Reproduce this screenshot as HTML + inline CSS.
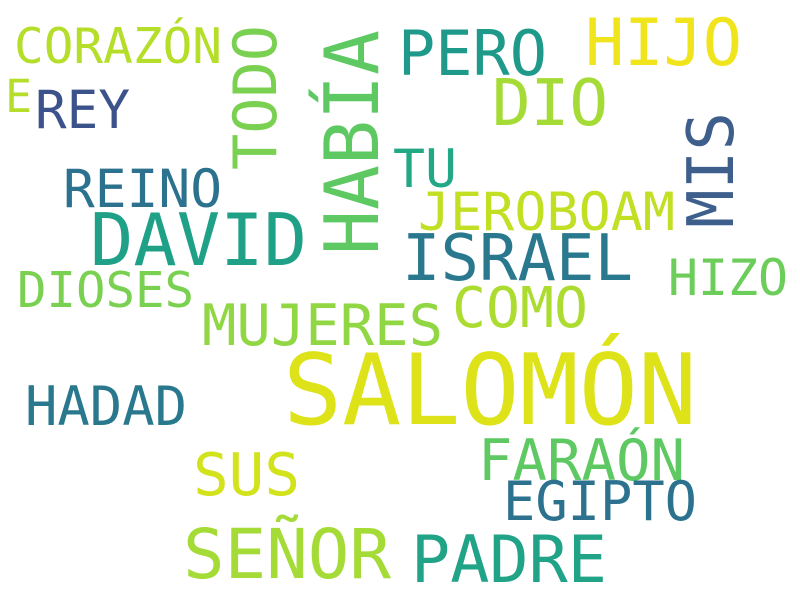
<!DOCTYPE html>
<html><head><meta charset="utf-8"><style>
html,body{margin:0;padding:0;background:#fff;}
svg text{font-family:"DejaVu Sans Mono","Liberation Mono",monospace;}
</style></head><body>
<svg width="800" height="600" viewBox="0 0 800 600">
<rect width="800" height="600" fill="#fff"/>
<text x="283" y="424" font-size="98" fill="#dde318" textLength="414" lengthAdjust="spacingAndGlyphs">SALOMÓN</text>
<text x="90" y="265" font-size="72" fill="#1fa187" textLength="217" lengthAdjust="spacingAndGlyphs">DAVID</text>
<text transform="translate(378,255) rotate(-90)" font-size="75" fill="#5ec962" textLength="225" lengthAdjust="spacingAndGlyphs">HABÍA</text>
<text transform="translate(276,170) rotate(-90)" font-size="60" fill="#7ad151" textLength="145" lengthAdjust="spacingAndGlyphs">TODO</text>
<text transform="translate(733,228) rotate(-90)" font-size="64" fill="#3e5f8c" textLength="116" lengthAdjust="spacingAndGlyphs">MIS</text>
<text x="585" y="65" font-size="65" fill="#f0e51c" textLength="157" lengthAdjust="spacingAndGlyphs">HIJO</text>
<text x="398" y="75" font-size="62" fill="#1f9a8a" textLength="149" lengthAdjust="spacingAndGlyphs">PERO</text>
<text x="492" y="125" font-size="64" fill="#a5db36" textLength="116" lengthAdjust="spacingAndGlyphs">DIO</text>
<text x="14" y="63" font-size="49" fill="#b5de2b" textLength="208" lengthAdjust="spacingAndGlyphs">CORAZÓN</text>
<text x="5" y="112" font-size="45" fill="#b5de2b">E</text>
<text x="35" y="128" font-size="53" fill="#3b528b" textLength="95" lengthAdjust="spacingAndGlyphs">REY</text>
<text x="63" y="207" font-size="53" fill="#2c728e" textLength="159" lengthAdjust="spacingAndGlyphs">REINO</text>
<text x="393" y="187" font-size="53" fill="#22a884" textLength="64" lengthAdjust="spacingAndGlyphs">TU</text>
<text x="418" y="230" font-size="53" fill="#c2df23" textLength="257" lengthAdjust="spacingAndGlyphs">JEROBOAM</text>
<text x="402" y="280" font-size="64" fill="#2a788e" textLength="231" lengthAdjust="spacingAndGlyphs">ISRAEL</text>
<text x="668" y="295" font-size="50" fill="#6ccd5a" textLength="120" lengthAdjust="spacingAndGlyphs">HIZO</text>
<text x="17" y="307" font-size="49" fill="#7ad151" textLength="177" lengthAdjust="spacingAndGlyphs">DIOSES</text>
<text x="202" y="345" font-size="57" fill="#90d743" textLength="241" lengthAdjust="spacingAndGlyphs">MUJERES</text>
<text x="452" y="327" font-size="56" fill="#addc30" textLength="136" lengthAdjust="spacingAndGlyphs">COMO</text>
<text x="25" y="425" font-size="54" fill="#2a788e" textLength="162" lengthAdjust="spacingAndGlyphs">HADAD</text>
<text x="193" y="495" font-size="59" fill="#d2e21b" textLength="107" lengthAdjust="spacingAndGlyphs">SUS</text>
<text x="478" y="480" font-size="57" fill="#5ec962" textLength="207" lengthAdjust="spacingAndGlyphs">FARAÓN</text>
<text x="503" y="520" font-size="54" fill="#2c728e" textLength="194" lengthAdjust="spacingAndGlyphs">EGIPTO</text>
<text x="183" y="578" font-size="69" fill="#a5db36" textLength="208" lengthAdjust="spacingAndGlyphs">SEÑOR</text>
<text x="411" y="582" font-size="65" fill="#20a386" textLength="196" lengthAdjust="spacingAndGlyphs">PADRE</text>
</svg>
</body></html>
